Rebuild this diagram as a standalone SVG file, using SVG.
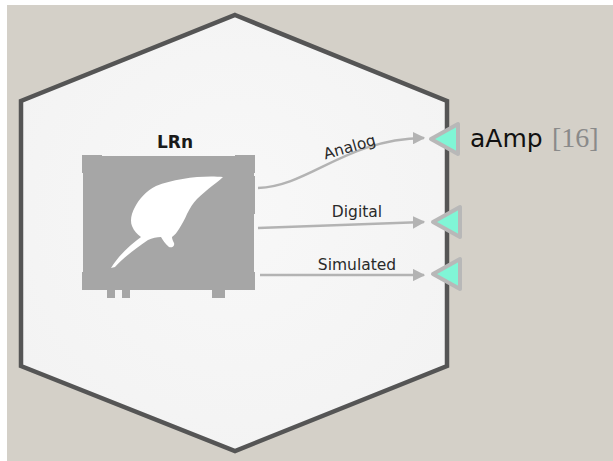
<svg xmlns="http://www.w3.org/2000/svg" width="613" height="461" viewBox="0 0 613 461">
  <defs>
    <style>
      .hex { stroke: #555555; stroke-width: 4.5; stroke-linejoin: miter; }
      .icon { fill: #a6a6a6; }
      .title { font-family: "DejaVu Sans", Verdana, sans-serif; font-weight: bold; font-size: 17px; fill: #1a1a1a; text-anchor: middle; }
      .wire { fill: none; stroke: #b3b3b3; stroke-width: 2.5; marker-end: url(#arrow); }
      .wlabel { font-family: "DejaVu Sans", Verdana, sans-serif; font-size: 15.5px; fill: #2a2a2a; text-anchor: middle; }
      .port { fill: #80f6d6; stroke: #b8b8b8; stroke-width: 4; stroke-linejoin: round; }
      .pname { font-family: "DejaVu Sans", Verdana, sans-serif; font-size: 25px; fill: #111111; }
      .pwidth { font-family: "Liberation Serif", "Times New Roman", serif; font-size: 28px; fill: #8a8a8a; }
    </style>
    <marker id="arrow" viewBox="0 0 10 10" refX="9" refY="5" markerWidth="5" markerHeight="5" orient="auto" markerUnits="strokeWidth">
      <path d="M0,0 L10,5 L0,10 z" fill="#b3b3b3"/>
    </marker>
    <radialGradient id="hexfill" cx="0.5" cy="0.45" r="0.6">
      <stop offset="0" stop-color="#f8f8f8"/>
      <stop offset="1" stop-color="#f3f3f3"/>
    </radialGradient>
  </defs>

  <!-- canvas -->
  <rect x="0" y="0" width="613" height="461" fill="#ffffff"/>
  <rect x="7" y="5" width="606" height="456" fill="#d4d0c8"/>

  <!-- block -->
  <g id="block-LRn">
    <polygon class="hex" fill="url(#hexfill)" points="235,15 447,101 447,366 235,451 21,366 21,101"/>
    <text class="title" x="175" y="148">LRn</text>
    <g id="icon">
      <!-- body with slight corner tabs -->
      <rect class="icon" x="83" y="156" width="171" height="134"/>
      <rect class="icon" x="82" y="155" width="20" height="18"/>
      <rect class="icon" x="235" y="155" width="20" height="18"/>
      <rect class="icon" x="82" y="272" width="20" height="18"/>
      <rect class="icon" x="235" y="272" width="20" height="18"/>
      <rect class="icon" x="254" y="176" width="1" height="38"/>
      <!-- feet -->
      <rect class="icon" x="107" y="288" width="8" height="10"/>
      <rect class="icon" x="122" y="288" width="8" height="10"/>
      <rect class="icon" x="212" y="288" width="13" height="10"/>
      <!-- leaf / creature silhouette -->
      <path fill="#ffffff" d="M223,177 C205,175 175,178 156,186 C146,191 139,199 135,207 C131,214 130,221 132,226 C134,231 137,234 141,237 C130,245 119,255 111,268 L115,267 C123,258 135,249 148,240 C152,238 157,237 161,237 C163,240 165,244 169,247 C172,248 175,246 174,243 C173,241 172,239 172,237 C175,235 177,232 179,229 C182,224 185,219 187,214 C190,208 193,203 197,199 C202,194 207,190 212,186 C216,183 220,180 223,177 Z"/>
    </g>
  </g>

  <!-- connectors -->
  <g id="connectors">
    <path class="wire" d="M258,188 C310,186 345,139 424,138"/>
    <path class="wire" d="M258,228 L424,222"/>
    <path class="wire" d="M260,275 L424,275"/>
    <text class="wlabel" transform="translate(351,152) rotate(-16)" x="0" y="0">Analog</text>
    <text class="wlabel" x="357" y="217">Digital</text>
    <text class="wlabel" x="357" y="270">Simulated</text>
  </g>

  <!-- ports -->
  <g id="port-aAmp">
    <polygon class="port" points="431,139 458,124 458,154"/>
    <text class="pname" x="470" y="147">aAmp</text>
    <text class="pwidth" x="552" y="147">[16]</text>
  </g>
  <g id="port-digital">
    <polygon class="port" points="433,222 460,207 460,237"/>
  </g>
  <g id="port-simulated">
    <polygon class="port" points="433,274 460,259 460,289"/>
  </g>
</svg>
